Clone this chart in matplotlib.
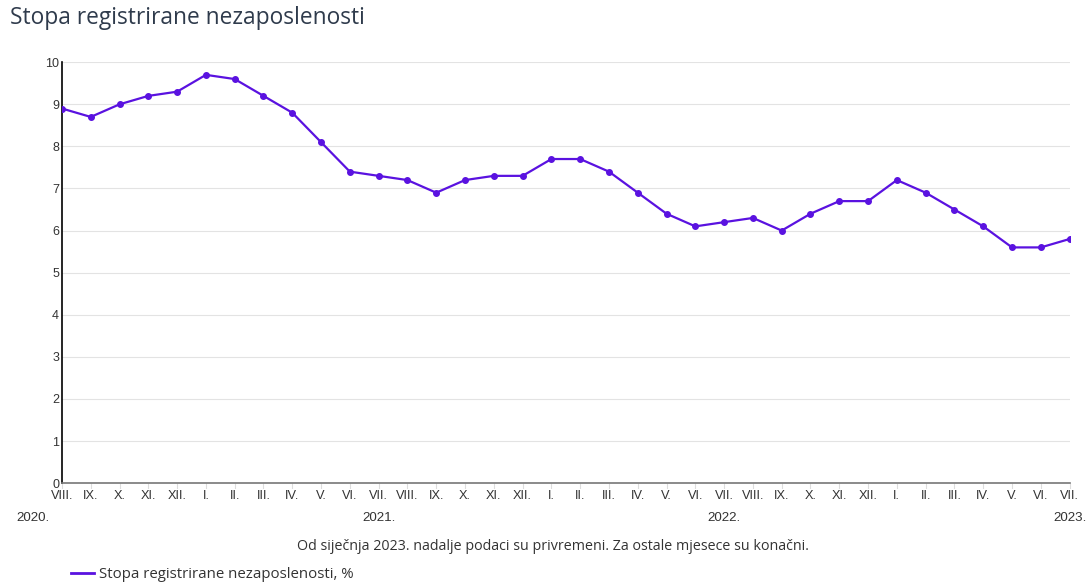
import matplotlib.pyplot as plt
import matplotlib.transforms as mtransforms

# DATA
months = ["VIII.", "IX.", "X.", "XI.", "XII.",
          "I.", "II.", "III.", "IV.", "V.", "VI.", "VII.", "VIII.", "IX.", "X.", "XI.", "XII.",
          "I.", "II.", "III.", "IV.", "V.", "VI.", "VII.", "VIII.", "IX.", "X.", "XI.", "XII.",
          "I.", "II.", "III.", "IV.", "V.", "VI.", "VII."]
rate = [8.9, 8.7, 9.0, 9.2, 9.3,
        9.7, 9.6, 9.2, 8.8, 8.1, 7.4, 7.3, 7.2, 6.9, 7.2, 7.3, 7.3,
        7.7, 7.7, 7.4, 6.9, 6.4, 6.1, 6.2, 6.3, 6.0, 6.4, 6.7, 6.7,
        7.2, 6.9, 6.5, 6.1, 5.6, 5.6, 5.8]
years = ["2020.", "2021.", "2022.", "2023."]
year_pos = [-1, 11, 23, 35]

LINE = "#5a12e0"
TXT = "#333333"

fig = plt.figure(figsize=(10.87, 5.87), dpi=100)
ax = fig.add_axes([0.057, 0.177, 0.927, 0.717])

x = list(range(len(rate)))
ax.plot(x, rate, color=LINE, lw=1.6, marker="o", markersize=4, zorder=3,
        label="Stopa registrirane nezaposlenosti, %")

ax.set_xlim(0, len(rate) - 1)
ax.set_ylim(0, 10)
ax.set_yticks(range(0, 11))
ax.grid(axis="y", color="#e3e3e3", lw=0.8)
ax.set_axisbelow(True)

ax.set_xticks(x)
ax.set_xticklabels(months, family="Liberation Sans", fontsize=9.2, color=TXT)
ax.tick_params(axis="x", length=8, color="#dddddd", pad=-3)
ax.tick_params(axis="y", length=0, pad=2, labelsize=9, labelcolor=TXT)
for lab in ax.get_yticklabels():
    lab.set_family("Liberation Sans")
for lab in ax.get_xticklabels():
    lab.set_bbox(dict(facecolor="white", edgecolor="none", pad=0.5))

for s in ["top", "right"]:
    ax.spines[s].set_visible(False)
ax.spines["left"].set_color("#000000")
ax.spines["left"].set_linewidth(1.2)
ax.spines["bottom"].set_color("#777777")
ax.spines["bottom"].set_linewidth(1.2)

# year labels under July of each year
trans = mtransforms.blended_transform_factory(ax.transData, fig.transFigure)
for yr, p in zip(years, year_pos):
    ax.text(p, 1 - 518 / 587, yr, transform=trans, ha="center", va="center",
            family="Liberation Sans", fontsize=9.6, color=TXT, clip_on=False)

fig.text(10 / 1087, 1 - 18 / 587, "Stopa registrirane nezaposlenosti",
         family="Open Sans", fontsize=16.4, color="#2f3b4c", va="center", ha="left")
fig.text(553 / 1087, 1 - 547 / 587,
         "Od siječnja 2023. nadalje podaci su privremeni. Za ostale mjesece su konačni.",
         family="Open Sans", fontsize=10.3, color=TXT, ha="center", va="center")

leg = fig.legend(loc="center left", bbox_to_anchor=(71 / 1087, 1 - 575 / 587), frameon=False,
                 prop={"family": "Open Sans", "size": 10.8}, handlelength=1.5,
                 handletextpad=0.35, borderaxespad=0, borderpad=0)
leg.get_lines()[0].set_marker("")
leg.get_lines()[0].set_linewidth(2)
for t in leg.get_texts():
    t.set_color(TXT)

fig.savefig("out.png", dpi=100)
